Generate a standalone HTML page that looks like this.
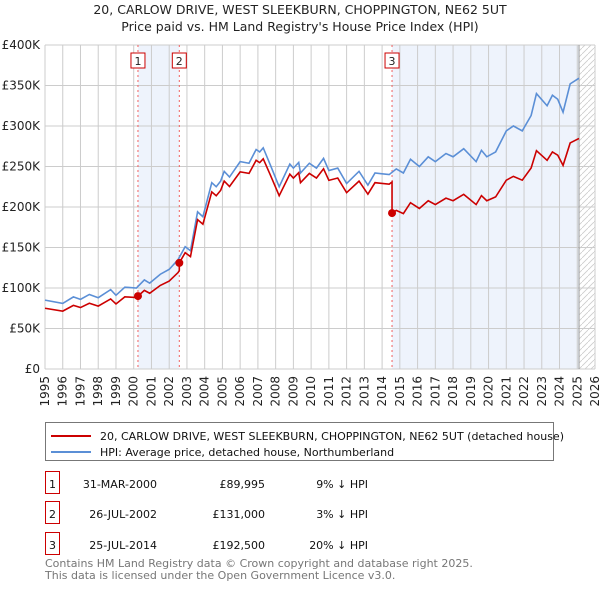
<!DOCTYPE html>
<html><head><meta charset="utf-8"><style>
body{margin:0;background:#fff;font-family:"Liberation Sans","DejaVu Sans",sans-serif;}
svg text{font-family:"DejaVu Sans","Liberation Sans",sans-serif;}
</style></head><body>
<svg id="chart" width="600" height="590" xmlns="http://www.w3.org/2000/svg">
<text x="300" y="14" text-anchor="middle" font-size="12.5" fill="#222">20, CARLOW DRIVE, WEST SLEEKBURN, CHOPPINGTON, NE62 5UT</text>
<text x="300" y="31" text-anchor="middle" font-size="12.5" fill="#222">Price paid vs. HM Land Registry's House Price Index (HPI)</text>
<g id="plot"></g>
<g>
<rect x="45.5" y="422.5" width="508" height="38" fill="#fff" stroke="#777"/>
<line x1="51" y1="436" x2="91" y2="436" stroke="#cc0000" stroke-width="2"/>
<text x="100" y="440" font-size="11" fill="#111">20, CARLOW DRIVE, WEST SLEEKBURN, CHOPPINGTON, NE62 5UT (detached house)</text>
<line x1="51" y1="452" x2="91" y2="452" stroke="#5b8fd6" stroke-width="2"/>
<text x="100" y="456" font-size="11" fill="#111">HPI: Average price, detached house, Northumberland</text>
</g>
<g id="table"></g>
<text x="45" y="567" font-size="11" fill="#777">Contains HM Land Registry data © Crown copyright and database right 2025.</text>
<text x="45" y="579" font-size="11" fill="#777">This data is licensed under the Open Government Licence v3.0.</text>
</svg>
<script>
const hpiYears=[1995.0,1996.0,1996.6,1997.0,1997.5,1998.0,1998.7,1999.0,1999.5,2000.15,2000.6,2000.9,2001.5,2002.0,2002.5,2002.9,2003.2,2003.6,2003.9,2004.4,2004.65,2004.9,2005.1,2005.4,2006.0,2006.5,2006.9,2007.1,2007.3,2007.7,2008.2,2008.8,2009.0,2009.3,2009.4,2009.9,2010.3,2010.7,2011.0,2011.5,2012.0,2012.7,2013.2,2013.6,2014.4,2014.8,2015.2,2015.6,2016.1,2016.6,2017.0,2017.6,2018.0,2018.6,2019.3,2019.6,2019.9,2020.4,2021.0,2021.4,2021.9,2022.4,2022.7,2023.3,2023.6,2023.9,2024.2,2024.6,2025.1];
const hpiValues=[85,81,89,86,92,88,98,91,101,100,110,106,117,123,135,151,146,194,188,230,225,232,244,237,256,254,271,268,273,252,225,253,248,255,242,254,248,260,245,248,229,244,227,242,240,247,242,259,250,262,256,266,262,272,256,270,262,268,294,300,294,313,340,325,338,333,317,352,359];
const saleLabels=["1","2","3"];
const saleYears=[2000.24,2002.57,2014.56];
const salePrices=[89995,131000,192500];
const saleDates=["31-MAR-2000","26-JUL-2002","25-JUL-2014"];
const salePriceText=["£89,995","£131,000","£192,500"];
const saleDiffText=["9% ↓ HPI","3% ↓ HPI","20% ↓ HPI"];
const yTicks=[0,50,100,150,200,250,300,350,400];
const yTickLabels=["£0","£50K","£100K","£150K","£200K","£250K","£300K","£350K","£400K"];
const xTicks=[1995,1996,1997,1998,1999,2000,2001,2002,2003,2004,2005,2006,2007,2008,2009,2010,2011,2012,2013,2014,2015,2016,2017,2018,2019,2020,2021,2022,2023,2024,2025,2026];

const NS="http://www.w3.org/2000/svg";
const X0=45,X1=595,Y0=369,Y1=45,XMIN=1995,XMAX=2026,VMAX=400;
const xs=v=>X0+(v-XMIN)/(XMAX-XMIN)*(X1-X0);
const ys=v=>Y0-v/VMAX*(Y0-Y1);
const plot=document.getElementById('plot');
function mk(tag,attrs,parent){const e=document.createElementNS(NS,tag);for(const k in attrs)e.setAttribute(k,attrs[k]);(parent||plot).appendChild(e);return e;}
function hpiAt(t){for(let i=1;i<hpiYears.length;i++){if(t<=hpiYears[i]){const f=(t-hpiYears[i-1])/(hpiYears[i]-hpiYears[i-1]);return hpiValues[i-1]+f*(hpiValues[i]-hpiValues[i-1]);}}return hpiValues[hpiValues.length-1];}
const lastYear=hpiYears[hpiYears.length-1];

let sh=mk('rect',{x:xs(saleYears[0]),y:Y1,width:xs(saleYears[1])-xs(saleYears[0]),height:Y0-Y1,fill:'#eef3fc'});


let sh2=mk('rect',{x:xs(saleYears[2]),y:Y1,width:xs(lastYear)-xs(saleYears[2]),height:Y0-Y1,fill:'#eef3fc'});


const defs=mk('defs',{});
const pat=mk('pattern',{id:'hatch',width:6,height:6,patternUnits:'userSpaceOnUse'},defs);
mk('path',{d:'M0,6 L6,0',stroke:'#ccc','stroke-width':0.8},pat);
let ht=mk('rect',{x:xs(lastYear),y:Y1,width:X1-xs(lastYear),height:Y0-Y1,fill:'url(#hatch)'});


yTicks.forEach((v,i)=>{
  let l=mk('line',{x1:X0,x2:X1,y1:ys(v),y2:ys(v),stroke:'#ccc'});
  
  
  let t=mk('text',{x:X0-5,y:ys(v)+4,'text-anchor':'end','font-size':12,fill:'#222'});
  t.textContent=yTickLabels[i];
  
  
});
xTicks.forEach(v=>{
  let l=mk('line',{x1:xs(v),x2:xs(v),y1:Y1,y2:Y0,stroke:'#ccc'});
  
  
  let t=mk('text',{x:0,y:0,'text-anchor':'end','font-size':12,fill:'#222',transform:`translate(${xs(v)+4},${Y0+7}) rotate(-90)`});
  t.textContent=v;
  
  
});
let vl=mk('line',{x1:xs(lastYear),x2:xs(lastYear),y1:Y1,y2:Y0,stroke:'#999'});


saleYears.forEach((s,i)=>{
  let l=mk('line',{x1:xs(s),x2:xs(s),y1:Y1,y2:Y0,stroke:'#f06060','stroke-dasharray':'2,3'});
  
  
  let b=mk('rect',{x:xs(s)-7,y:53,width:14,height:15,fill:'#fff',stroke:'#cc0000'});
  
  
  let t=mk('text',{x:xs(s),y:65,'text-anchor':'middle','font-size':11,fill:'#222'});
  t.textContent=saleLabels[i];
  
  
});
let hp=mk('polyline',{points:hpiYears.map((y,i)=>xs(y)+','+ys(hpiValues[i])).join(' '),fill:'none',stroke:'#5b8fd6','stroke-width':1.6});


function ratioAt(t){let k=0;for(let i=0;i<saleYears.length;i++)if(t>=saleYears[i])k=i;return salePrices[k]/1000/hpiAt(saleYears[k]);}
let pts=[];
const allT=hpiYears.slice();
saleYears.forEach(s=>allT.push(s));
allT.sort((a,b)=>a-b);
allT.forEach(t=>{
  saleYears.forEach((s,k)=>{if(Math.abs(t-s)<1e-9&&k>0){pts.push([t,hpiAt(t)*salePrices[k-1]/1000/hpiAt(saleYears[k-1])]);}});
  pts.push([t,hpiAt(t)*ratioAt(t)]);
});
let pr=mk('polyline',{points:pts.map(p=>xs(p[0])+','+ys(p[1])).join(' '),fill:'none',stroke:'#cc0000','stroke-width':1.6});


saleYears.forEach((s,i)=>{
  let c=mk('circle',{cx:xs(s),cy:ys(salePrices[i]/1000),r:4,fill:'#cc0000'});
  
  
});
const tb=document.getElementById('table');
const rowY=[484,514,545];
saleLabels.forEach((l,i)=>{
  const y=rowY[i];
  let b=mk('rect',{x:45.5,y:y-12.5,width:14,height:22,fill:'#fff',stroke:'#cc0000'},tb);
  
  
  const cells=[[52.5,'middle',l,'row-number'],[157,'end',saleDates[i],'row-date'],[265,'end',salePriceText[i],'row-price'],[368,'end',saleDiffText[i],'row-hpi-diff']];
  cells.forEach(c=>{
    let t=mk('text',{x:c[0],y:y+4,'text-anchor':c[1],'font-size':11,fill:'#111'},tb);
    t.textContent=c[2];
    
    
  });
});
</script>
</body></html>
